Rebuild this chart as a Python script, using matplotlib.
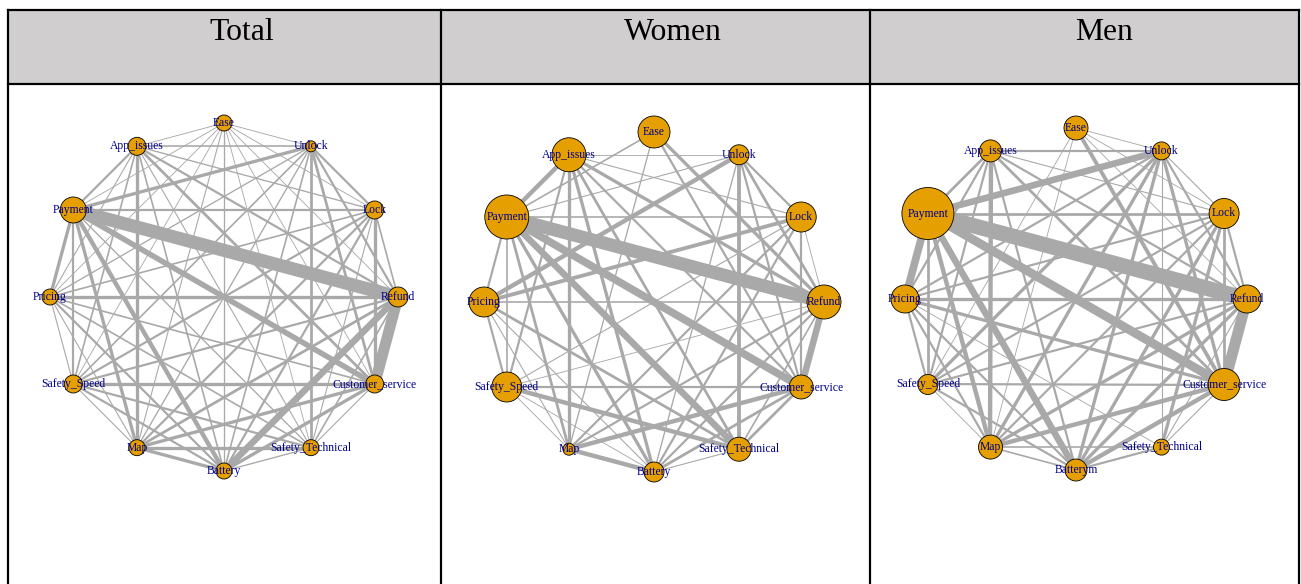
import numpy as np
import matplotlib
matplotlib.use("Agg")
import matplotlib.pyplot as plt
from matplotlib.patches import Rectangle

# ---------------- data ----------------
nodes = ["Refund", "Lock", "Unlock", "Ease", "App_issues", "Payment", "Pricing",
         "Safety_Speed", "Map", "Battery", "Safety_Technical", "Customer_service"]
panel_titles = ["Total", "Women", "Men"]

labels_total = nodes
labels_women = nodes
labels_men = ["Refund", "Lock", "Unlock", "Ease", "App_issues", "Payment", "Pricing",
              "Safety_Speed", "Map", "Batterym", "Safety_Technical", "Customer_service"]

# vertex sizes (radius, px)
size_total = [10, 9, 5.5, 8, 9, 13, 8, 9, 8, 8, 8, 9]
size_women = [17, 15, 10, 16, 17, 22, 15, 15, 6, 10, 12, 12]
size_men = [14, 15, 9, 12, 11, 26, 14, 10, 12, 11, 8, 16]

# edges (node a, node b, width px)
edges_total = [
    ("Refund", "Lock", 1.5), ("Refund", "Unlock", 2), ("Refund", "Ease", 0.8),
    ("Refund", "App_issues", 2), ("Refund", "Payment", 12), ("Refund", "Pricing", 3),
    ("Refund", "Safety_Speed", 2), ("Refund", "Map", 2.5), ("Refund", "Battery", 6),
    ("Refund", "Safety_Technical", 1.5), ("Refund", "Customer_service", 10),
    ("Lock", "Unlock", 2), ("Lock", "Ease", 0.8), ("Lock", "App_issues", 1.2),
    ("Lock", "Payment", 2), ("Lock", "Pricing", 1.5), ("Lock", "Safety_Speed", 2),
    ("Lock", "Map", 2), ("Lock", "Battery", 2), ("Lock", "Safety_Technical", 1),
    ("Lock", "Customer_service", 3),
    ("Unlock", "Ease", 0.8), ("Unlock", "App_issues", 1.5), ("Unlock", "Payment", 3),
    ("Unlock", "Pricing", 1.2), ("Unlock", "Safety_Speed", 1.5), ("Unlock", "Map", 1.2),
    ("Unlock", "Battery", 1.5), ("Unlock", "Safety_Technical", 2.5),
    ("Unlock", "Customer_service", 2.5),
    ("Ease", "App_issues", 0.8), ("Ease", "Payment", 0.8), ("Ease", "Pricing", 0.8),
    ("Ease", "Safety_Speed", 0.8), ("Ease", "Map", 1), ("Ease", "Battery", 1.2),
    ("Ease", "Safety_Technical", 0.8), ("Ease", "Customer_service", 0.8),
    ("App_issues", "Payment", 2), ("App_issues", "Pricing", 1),
    ("App_issues", "Safety_Speed", 1.5), ("App_issues", "Map", 3),
    ("App_issues", "Battery", 1.5), ("App_issues", "Safety_Technical", 1),
    ("App_issues", "Customer_service", 2.5),
    ("Payment", "Pricing", 3), ("Payment", "Safety_Speed", 2), ("Payment", "Map", 3),
    ("Payment", "Battery", 4), ("Payment", "Safety_Technical", 1.2),
    ("Payment", "Customer_service", 5),
    ("Pricing", "Safety_Speed", 1), ("Pricing", "Map", 1), ("Pricing", "Battery", 2),
    ("Pricing", "Safety_Technical", 1.5), ("Pricing", "Customer_service", 1.5),
    ("Safety_Speed", "Map", 1), ("Safety_Speed", "Battery", 2),
    ("Safety_Speed", "Safety_Technical", 2), ("Safety_Speed", "Customer_service", 3),
    ("Map", "Battery", 3), ("Map", "Safety_Technical", 3), ("Map", "Customer_service", 3),
    ("Battery", "Safety_Technical", 1.2), ("Battery", "Customer_service", 3),
    ("Safety_Technical", "Customer_service", 1),
]

edges_women = [
    ("Refund", "Lock", 0.8), ("Refund", "Unlock", 2.5), ("Refund", "Ease", 3),
    ("Refund", "App_issues", 3), ("Refund", "Payment", 12), ("Refund", "Pricing", 1.5),
    ("Refund", "Safety_Speed", 0.8), ("Refund", "Map", 2), ("Refund", "Battery", 2),
    ("Refund", "Safety_Technical", 1.5), ("Refund", "Customer_service", 6),
    ("Lock", "Unlock", 2), ("Lock", "App_issues", 1), ("Lock", "Payment", 1.5),
    ("Lock", "Pricing", 3.5), ("Lock", "Safety_Speed", 1), ("Lock", "Map", 2),
    ("Lock", "Battery", 2), ("Lock", "Customer_service", 2),
    ("Unlock", "App_issues", 0.8), ("Unlock", "Payment", 1), ("Unlock", "Pricing", 4),
    ("Unlock", "Battery", 1.2), ("Unlock", "Safety_Technical", 3.5),
    ("Unlock", "Customer_service", 2),
    ("Ease", "Payment", 1.5), ("Ease", "Map", 1.2), ("Ease", "Customer_service", 2),
    ("App_issues", "Payment", 4), ("App_issues", "Safety_Speed", 2),
    ("App_issues", "Map", 3), ("App_issues", "Battery", 3),
    ("App_issues", "Safety_Technical", 2.5), ("App_issues", "Customer_service", 2),
    ("Payment", "Pricing", 2), ("Payment", "Safety_Speed", 1.5), ("Payment", "Map", 2.5),
    ("Payment", "Battery", 3), ("Payment", "Safety_Technical", 6),
    ("Payment", "Customer_service", 7),
    ("Pricing", "Safety_Speed", 2), ("Pricing", "Map", 1),
    ("Pricing", "Safety_Technical", 2.5), ("Pricing", "Battery", 1),
    ("Safety_Speed", "Map", 0.8), ("Safety_Speed", "Battery", 0.8),
    ("Safety_Speed", "Safety_Technical", 4), ("Safety_Speed", "Customer_service", 2),
    ("Map", "Battery", 4), ("Map", "Customer_service", 4),
    ("Battery", "Customer_service", 2.5), ("Battery", "Safety_Technical", 1),
    ("Safety_Technical", "Customer_service", 2.5),
]

edges_men = [
    ("Refund", "Lock", 2), ("Refund", "Unlock", 2), ("Refund", "App_issues", 2),
    ("Refund", "Payment", 14), ("Refund", "Pricing", 3), ("Refund", "Safety_Speed", 2),
    ("Refund", "Map", 3), ("Refund", "Battery", 3), ("Refund", "Safety_Technical", 1),
    ("Refund", "Customer_service", 10), ("Refund", "Ease", 0.8),
    ("Lock", "Unlock", 1), ("Lock", "Ease", 0.8), ("Lock", "App_issues", 1),
    ("Lock", "Payment", 2.5), ("Lock", "Pricing", 2), ("Lock", "Safety_Speed", 2),
    ("Lock", "Map", 2), ("Lock", "Battery", 3), ("Lock", "Safety_Technical", 3),
    ("Lock", "Customer_service", 2.5),
    ("Unlock", "Ease", 0.8), ("Unlock", "App_issues", 2), ("Unlock", "Payment", 6),
    ("Unlock", "Pricing", 2), ("Unlock", "Safety_Speed", 3), ("Unlock", "Map", 3),
    ("Unlock", "Battery", 3), ("Unlock", "Safety_Technical", 1),
    ("Unlock", "Customer_service", 3),
    ("Ease", "Map", 0.8), ("Ease", "Safety_Speed", 0.8), ("Ease", "Customer_service", 3.5),
    ("App_issues", "Payment", 2.5), ("App_issues", "Pricing", 2),
    ("App_issues", "Safety_Speed", 2), ("App_issues", "Map", 4),
    ("App_issues", "Battery", 2), ("App_issues", "Customer_service", 2.5),
    ("Payment", "Pricing", 7), ("Payment", "Safety_Speed", 2.5), ("Payment", "Map", 4),
    ("Payment", "Battery", 6), ("Payment", "Customer_service", 8),
    ("Pricing", "Safety_Speed", 2), ("Pricing", "Map", 2), ("Pricing", "Battery", 2),
    ("Pricing", "Safety_Technical", 0.8), ("Pricing", "Customer_service", 3),
    ("Safety_Speed", "Map", 0.8), ("Safety_Speed", "Battery", 2),
    ("Safety_Speed", "Customer_service", 2),
    ("Map", "Battery", 1.5), ("Map", "Safety_Technical", 1.5), ("Map", "Customer_service", 4),
    ("Battery", "Safety_Technical", 2), ("Battery", "Customer_service", 4),
    ("Safety_Technical", "Customer_service", 1),
]

# ---------------- style / layout ----------------
W, H = 1301, 584
DPI = 100
PX = 72.0 / DPI  # points per pixel
SERIF = "Liberation Serif"
VERTEX_COLOR = "#E69F00"
EDGE_COLOR = "#A9A9A9"
LABEL_COLOR = "#00008B"
EDGE_SCALE = 1.1

fig = plt.figure(figsize=(W / DPI, H / DPI), dpi=DPI)
bg = fig.add_axes([0, 0, 1, 1])
bg.set_xlim(0, W)
bg.set_ylim(H, 0)
bg.axis("off")

# table frame
left, right, top, hdr = 8, 1299, 10, 84
cols = [left, 441, 870, right]
bg.add_patch(Rectangle((left, top), right - left, hdr - top, fc="#D0CECE", ec="none", zorder=0))
lw_tab = 2.2 * PX
bg.plot([left, right], [top, top], color="black", lw=lw_tab, zorder=5)
bg.plot([left, right], [hdr, hdr], color="black", lw=lw_tab, zorder=5)
for x in cols:
    bg.plot([x, x], [top, H], color="black", lw=lw_tab, zorder=5)

title_x = [242, 673, 1104]
for tx, t in zip(title_x, panel_titles):
    bg.text(tx, 40.5, t, ha="center", va="baseline", fontsize=22.8, family=SERIF, color="black")

panels = [
    dict(cx=224, cy=297, r=174, labels=labels_total, sizes=size_total, edges=edges_total),
    dict(cx=654, cy=302, r=170, labels=labels_women, sizes=size_women, edges=edges_women),
    dict(cx=1076, cy=299, r=171, labels=labels_men, sizes=size_men, edges=edges_men),
]

m = 1.2
ang = 2 * np.pi * np.arange(len(nodes)) / len(nodes)
xs, ys = np.cos(ang), np.sin(ang)
idx = {n: i for i, n in enumerate(nodes)}

for p in panels:
    half = p["r"] * m
    ax = fig.add_axes([(p["cx"] - half) / W, 1 - (p["cy"] + half) / H,
                       2 * half / W, 2 * half / H])
    ax.set_xlim(-m, m)
    ax.set_ylim(-m, m)
    ax.axis("off")
    for a, b, w in p["edges"]:
        i, j = idx[a], idx[b]
        ax.plot([xs[i], xs[j]], [ys[i], ys[j]], color=EDGE_COLOR, lw=w * EDGE_SCALE * PX,
                solid_capstyle="butt", zorder=1)
    s = [(2 * r * PX) ** 2 for r in p["sizes"]]
    ax.scatter(xs, ys, s=s, c=VERTEX_COLOR, edgecolors="black", linewidths=0.6, zorder=3)
    for i, lab in enumerate(p["labels"]):
        ax.text(xs[i], ys[i], lab, ha="center", va="center", color=LABEL_COLOR,
                fontsize=8.4, family=SERIF, zorder=4)

fig.savefig("out.png", dpi=DPI)
